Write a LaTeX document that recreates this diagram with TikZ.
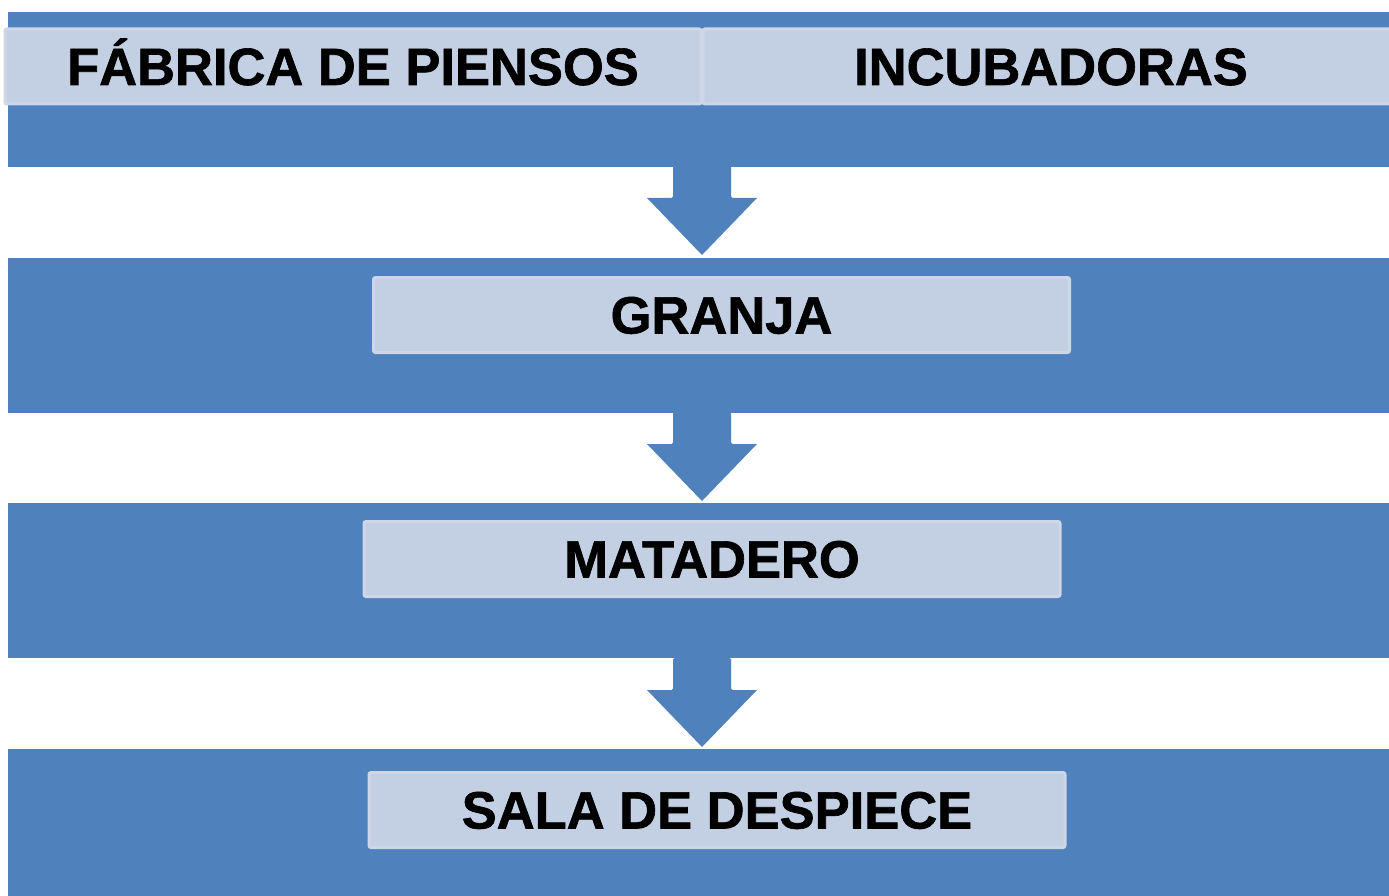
\documentclass[tikz,border=0pt]{standalone}
\usepackage{fontspec}
\setmainfont{Liberation Sans}
\newfontfamily\heavyfont[FakeBold=1.2]{Liberation Sans Bold}
\usetikzlibrary{calc}
\definecolor{bandblue}{HTML}{4F81BD}
\definecolor{boxfill}{HTML}{C3CFE2}
\definecolor{boxline}{HTML}{CDD7E7}
\tikzset{
  band/.style={fill=bandblue, draw=none, inner sep=0pt, minimum width=1381pt, minimum height=155pt, anchor=north west},
  label box/.style={fill=boxfill, draw=boxline, line width=3pt, rounded corners=2pt, inner sep=0pt,
    text height=37pt, text depth=0pt,
    minimum width=696pt, minimum height=75pt, font=\heavyfont\fontsize{52.5}{60}\selectfont, text=black},
  flowarrow/.style={fill=bandblue, draw=none},
}
\begin{document}
\begin{tikzpicture}[x=1pt,y=-1pt]
\useasboundingbox (0,0) rectangle (1389,896);
% bands
\node[band] (b1) at (8,12) {};
\node[band] (b2) at (8,258) {};
\node[band] (b3) at (8,503) {};
\node[band, minimum height=160pt] (b4) at (8,749) {};
% arrows between bands
\foreach \t/\n in {167/b2,413/b3,659/b4}{
  \fill[flowarrow, rounded corners=1.5pt] (673,\t-1) -- (673,\t+31) [sharp corners]-- (647,\t+31) -- (702,\t+88) -- (757,\t+31) [rounded corners=1.5pt]-- (731,\t+31) -- (731,\t-1) -- cycle;
}
% label boxes
\node[label box] (fab) at (353,66.5) {FÁBRICA DE PIENSOS};
\node[label box] (inc) at (1051,66.5) {INCUBADORAS};
\node[label box] (gra) at (721.5,315) {GRANJA};
\node[label box] (mat) at (712,559) {MATADERO};
\node[label box] (sal) at (717,810) {SALA DE DESPIECE};
\end{tikzpicture}
\end{document}
